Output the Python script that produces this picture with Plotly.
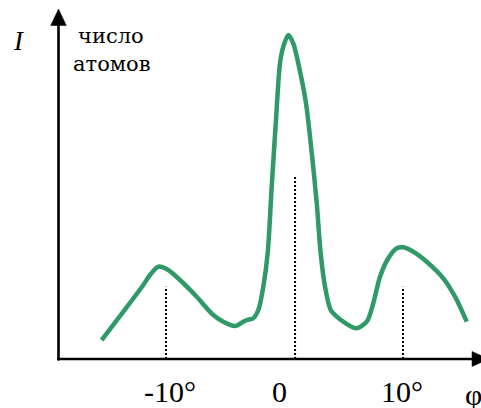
import plotly.graph_objects as go

# ---- data (angle in degrees, intensity in relative units, peak = 100) ----
curve_deg = [-15.43, -13.60, -11.92, -11.35, -10.65, -9.81, -8.82, -7.41, -6.01, -5.16,
             -4.18, -3.48, -3.16, -2.66, -2.21, -1.79, -1.42, -1.08, -0.72, -0.38,
             -0.10, 0.32, 0.74, 1.16, 1.81, 2.30, 2.72, 3.05, 3.42, 3.90,
             4.41, 4.96, 5.53, 6.09, 6.94, 7.49, 8.06, 8.76, 9.47, 10.03,
             10.87, 12.00, 13.40, 14.39, 15.38]
curve_int = [5.86, 14.60, 22.84, 25.93, 28.49, 27.47, 24.38, 19.23, 13.58, 11.51,
             10.19, 11.51, 12.04, 12.50, 15.12, 22.31, 32.62, 53.18, 73.77, 91.27,
             96.39, 100.0, 97.44, 91.27, 79.01, 63.58, 48.15, 32.72, 22.31, 15.12,
             13.06, 11.51, 10.19, 9.48, 11.51, 17.19, 25.40, 31.08, 34.17, 34.48,
             33.12, 30.03, 24.91, 19.23, 11.51]

marker_deg = [-10.0, 0.89, 10.0]
marker_top = [22.31, 56.79, 22.31]

tick_pos = [-9.66, -0.46, 9.9]
tick_labels = ["-10°", "0", "10°"]

y_label = "I"
y_note = ["число", "атомов"]
x_label = "φ"

# ---- layout geometry ----
W, H = 481, 408
XR = [-24.008, 16.582]
YR = [-15.12, 110.80]


def px2x(p):
    return XR[0] + p / W * (XR[1] - XR[0])


def py2y(p):
    return YR[1] - p / H * (YR[1] - YR[0])


GREEN = "#2f9a68"
SERIF = "Times New Roman"
SERIF_CYR = "DejaVu Serif"

fig = go.Figure()

# dotted guide lines
for xv, top in zip(marker_deg, marker_top):
    fig.add_trace(go.Scatter(x=[xv, xv], y=[0, top], mode="lines",
                             line=dict(color="black", width=2, dash="2px,2px"),
                             hoverinfo="skip", showlegend=False))

# main curve
fig.add_trace(go.Scatter(x=curve_deg, y=curve_int, mode="lines",
                         line=dict(color=GREEN, width=4.5, shape="spline", smoothing=0.8),
                         showlegend=False))

shapes = []
ax_x = px2x(58.5)
# y axis line + arrow head
shapes.append(dict(type="line", x0=ax_x, x1=ax_x, y0=py2y(360.5), y1=py2y(22),
                   line=dict(color="black", width=2.6)))
shapes.append(dict(type="path",
                   path=f"M {px2x(50.7)},{py2y(25.5)} L {px2x(58.5)},{py2y(9)} L {px2x(66.3)},{py2y(25.5)} Z",
                   fillcolor="black", line=dict(color="black", width=0.5)))
# x axis line + arrow head
shapes.append(dict(type="line", x0=px2x(57.2), x1=px2x(475), y0=0, y1=0,
                   line=dict(color="black", width=2.6)))
shapes.append(dict(type="path",
                   path=f"M {px2x(472)},{py2y(351.5)} L {px2x(489)},{py2y(359)} L {px2x(472)},{py2y(366.5)} Z",
                   fillcolor="black", line=dict(color="black", width=0.5)))

annotations = []
for xv, t in zip(tick_pos, tick_labels):
    annotations.append(dict(x=xv, y=py2y(391.5), text=t, showarrow=False,
                            xanchor="center", yanchor="middle",
                            font=dict(family=SERIF, size=30, color="black")))
annotations.append(dict(x=px2x(473), y=py2y(394), text=x_label, showarrow=False,
                        xanchor="center", yanchor="middle",
                        font=dict(family=SERIF, size=30, color="black")))
annotations.append(dict(x=px2x(19), y=py2y(41), text=f"<i>{y_label}</i>", showarrow=False,
                        xanchor="center", yanchor="middle",
                        font=dict(family=SERIF, size=27, color="black")))
annotations.append(dict(x=px2x(111), y=py2y(35.5), text=y_note[0], showarrow=False,
                        xanchor="center", yanchor="middle",
                        font=dict(family=SERIF_CYR, size=21, color="black")))
annotations.append(dict(x=px2x(112), y=py2y(63.5), text=y_note[1], showarrow=False,
                        xanchor="center", yanchor="middle",
                        font=dict(family=SERIF_CYR, size=21, color="black")))

fig.update_layout(
    width=W, height=H,
    margin=dict(l=0, r=0, t=0, b=0, pad=0),
    paper_bgcolor="white", plot_bgcolor="white",
    xaxis=dict(range=XR, visible=False, fixedrange=True),
    yaxis=dict(range=YR, visible=False, fixedrange=True),
    shapes=shapes, annotations=annotations,
    showlegend=False,
)

fig.write_html("out.html", config={"displayModeBar": False},
               post_script="document.body.style.margin='0';document.body.style.overflow='hidden';")
